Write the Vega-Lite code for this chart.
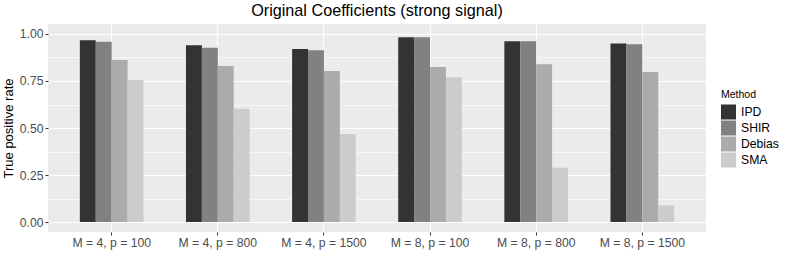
{
  "$schema": "https://vega.github.io/schema/vega-lite/v6.json",
  "width": 658,
  "height": 208,
  "autosize": {"type": "none"},
  "padding": {"left": 48, "top": 24, "right": 83, "bottom": 35},
  "background": "white",
  "title": {"text": "Original Coefficients (strong signal)", "fontSize": 16.2, "font": "Liberation Sans", "fontWeight": "normal", "color": "black", "anchor": "middle", "offset": 5},
  "config": {"view": {"fill": "#EBEBEB", "stroke": null}, "font": "Liberation Sans"},
  "data": {"values": [
    {"setting": "M = 4, p = 100", "method": "IPD", "tpr": 0.966},
    {"setting": "M = 4, p = 100", "method": "SHIR", "tpr": 0.959},
    {"setting": "M = 4, p = 100", "method": "Debias", "tpr": 0.862},
    {"setting": "M = 4, p = 100", "method": "SMA", "tpr": 0.755},
    {"setting": "M = 4, p = 800", "method": "IPD", "tpr": 0.940},
    {"setting": "M = 4, p = 800", "method": "SHIR", "tpr": 0.927},
    {"setting": "M = 4, p = 800", "method": "Debias", "tpr": 0.830},
    {"setting": "M = 4, p = 800", "method": "SMA", "tpr": 0.603},
    {"setting": "M = 4, p = 1500", "method": "IPD", "tpr": 0.920},
    {"setting": "M = 4, p = 1500", "method": "SHIR", "tpr": 0.913},
    {"setting": "M = 4, p = 1500", "method": "Debias", "tpr": 0.803},
    {"setting": "M = 4, p = 1500", "method": "SMA", "tpr": 0.468},
    {"setting": "M = 8, p = 100", "method": "IPD", "tpr": 0.982},
    {"setting": "M = 8, p = 100", "method": "SHIR", "tpr": 0.982},
    {"setting": "M = 8, p = 100", "method": "Debias", "tpr": 0.824},
    {"setting": "M = 8, p = 100", "method": "SMA", "tpr": 0.770},
    {"setting": "M = 8, p = 800", "method": "IPD", "tpr": 0.961},
    {"setting": "M = 8, p = 800", "method": "SHIR", "tpr": 0.961},
    {"setting": "M = 8, p = 800", "method": "Debias", "tpr": 0.839},
    {"setting": "M = 8, p = 800", "method": "SMA", "tpr": 0.289},
    {"setting": "M = 8, p = 1500", "method": "IPD", "tpr": 0.950},
    {"setting": "M = 8, p = 1500", "method": "SHIR", "tpr": 0.945},
    {"setting": "M = 8, p = 1500", "method": "Debias", "tpr": 0.798},
    {"setting": "M = 8, p = 1500", "method": "SMA", "tpr": 0.089}
  ]},
  "mark": {"type": "bar"},
  "encoding": {
    "x": {
      "field": "setting", "type": "nominal",
      "sort": ["M = 4, p = 100", "M = 4, p = 800", "M = 4, p = 1500", "M = 8, p = 100", "M = 8, p = 800", "M = 8, p = 1500"],
      "scale": {"paddingInner": 0.4, "paddingOuter": 0.3},
      "axis": {"title": null, "labelAngle": 0, "grid": true, "gridColor": "white", "gridWidth": 1.2, "bandPosition": 0.5, "domain": false, "tickColor": "#333333", "tickSize": 3, "tickWidth": 1, "labelColor": "#4D4D4D", "labelFontSize": 12.2, "labelPadding": 1}
    },
    "xOffset": {
      "field": "method", "type": "nominal",
      "sort": ["IPD", "SHIR", "Debias", "SMA"],
      "scale": {"paddingInner": 0, "paddingOuter": 0}
    },
    "y": {
      "field": "tpr", "type": "quantitative",
      "scale": {"domain": [-0.0527, 1.053], "nice": false, "zero": false},
      "axis": {
        "title": "True positive rate", "titleFontSize": 13, "titleFontWeight": "normal", "titleColor": "black", "titlePadding": 4,
        "values": [0, 0.125, 0.25, 0.375, 0.5, 0.625, 0.75, 0.875, 1],
        "format": ".2f",
        "labelExpr": "datum.value % 0.25 != 0 ? '' : datum.label",
        "grid": true, "gridColor": "white",
        "gridWidth": {"condition": {"test": "datum.value % 0.25 != 0", "value": 0.6}, "value": 1.2},
        "tickOpacity": {"condition": {"test": "datum.value % 0.25 != 0", "value": 0}, "value": 1},
        "domain": false, "tickColor": "#333333", "tickSize": 3, "tickWidth": 1,
        "labelColor": "#4D4D4D", "labelFontSize": 12.2, "labelPadding": 2
      }
    },
    "y2": {"datum": 0},
    "color": {
      "field": "method", "type": "nominal",
      "sort": ["IPD", "SHIR", "Debias", "SMA"],
      "scale": {"domain": ["IPD", "SHIR", "Debias", "SMA"], "range": ["#333333", "#818181", "#ABABAB", "#CCCCCC"]},
      "legend": {"title": "Method", "orient": "none", "legendX": 673, "legendY": 66, "symbolType": "square", "symbolSize": 225, "symbolStrokeWidth": 0, "symbolOpacity": 1, "titleFontSize": 10.5, "titleFontWeight": "normal", "titleColor": "black", "labelFontSize": 12.2, "labelColor": "black", "rowPadding": 1, "titlePadding": 4, "labelOffset": 5}
    }
  }
}
